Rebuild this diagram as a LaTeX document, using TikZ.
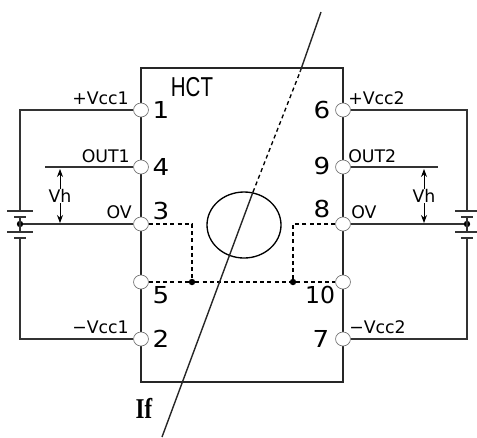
\documentclass[tikz,border=0pt]{standalone}
\usepackage{fontspec}
\setmainfont{DejaVu Sans}
\newfontfamily\hctfont{Liberation Sans}
\newfontfamily\iffont{Liberation Serif}
\usetikzlibrary{arrows.meta,shapes.geometric}
\begin{document}
\begin{tikzpicture}[
          x=0.75pt, y=-0.75pt,
          wire/.style={line width=1.3pt, black!80},
          thinwire/.style={line width=1.05pt, black!85},
          dashwire/.style={line width=1pt, black, dash pattern=on 3pt off 2.4pt},
          pinhole/.style={draw=black!55, line width=0.5pt, fill=white, ellipse, inner sep=0pt, minimum width=11.2pt, minimum height=10.5pt},
          junction/.style={circle, fill=black, inner sep=0pt, minimum size=4.8pt},
          pinnum/.style={font=\fontsize{17.5}{18}\selectfont, xscale=1.12, inner sep=0pt},
          pinlabel/.style={font=\fontsize{13}{14}\selectfont, inner sep=0pt},
          plate/.style={line width=1.1pt, black!80},
          vharrow/.style={-{Stealth[length=6pt,width=4.5pt]}, line width=0.6pt},
        ]
          \useasboundingbox (0,0) rectangle (477,437);

          \coordinate (tl) at (141,68);
          \coordinate (tr) at (343,68);
          \coordinate (bl) at (141,382);
          \coordinate (br) at (343,382);
          \draw[thinwire] (tl) -- (tr) -- (br) -- (bl) -- cycle;

          \node[pinhole] (p1) at (141,110) {};
          \node[pinhole] (p4) at (141,167) {};
          \node[pinhole] (p3) at (141,224) {};
          \node[pinhole] (p5) at (141,282) {};
          \node[pinhole] (p2) at (141,339) {};
          \node[pinhole] (p6) at (343,110) {};
          \node[pinhole] (p9) at (343,167) {};
          \node[pinhole] (p8) at (343,224) {};
          \node[pinhole] (p10) at (343,282) {};
          \node[pinhole] (p7) at (343,339) {};

          \node[pinnum] at (161,110) {1};
          \node[pinnum] at (161,167) {4};
          \node[pinnum] at (161,211) {3};
          \node[pinnum] at (161,295) {5};
          \node[pinnum] at (161,339) {2};
          \node[pinnum] at (322,110) {6};
          \node[pinnum] at (322,166) {9};
          \node[pinnum] at (322,209) {8};
          \node[pinnum, xscale=0.9] at (320,295) {10};
          \node[pinnum] at (321,339) {7};

          \node[pinlabel, anchor=east] at (129,98) {+Vcc1};
          \node[pinlabel, anchor=east] at (130,156) {OUT1};
          \node[pinlabel, anchor=east] at (132,212) {OV};
          \node[pinlabel, anchor=east] at (129,327) {−Vcc1};
          \node[pinlabel, anchor=west] at (348,98) {+Vcc2};
          \node[pinlabel, anchor=west] at (348,156) {OUT2};
          \node[pinlabel, anchor=west] at (351,212) {OV};
          \node[pinlabel, anchor=west] at (349,327) {−Vcc2};

          \node[pinlabel] (vh1) at (60,196) {Vh};
          \node[pinlabel] (vh2) at (424,196) {Vh};

          \node[font=\hctfont\fontsize{20.5}{22}\selectfont, xscale=0.75, inner sep=0pt] at (192,87) {HCT};
          \node[font=\iffont\bfseries\fontsize{21.5}{24}\selectfont, xscale=0.8, inner sep=0pt] at (144,408) {If};

          \coordinate (ol) at (45,167);
          \coordinate (or) at (438,167);
          \coordinate (vl1) at (60,169);
          \coordinate (vl2) at (60,223);
          \coordinate (vr1) at (424,169);
          \coordinate (vr2) at (424,223);

          \node[junction] (bmidl) at (20,224) {};
          \node[junction] (bmidr) at (467,224) {};
          \coordinate (bl1) at (20,211);
          \coordinate (bl2) at (20,217);
          \coordinate (bl3) at (20,232);
          \coordinate (bl4) at (20,238);
          \coordinate (br1) at (467,211);
          \coordinate (br2) at (467,217);
          \coordinate (br3) at (467,232);
          \coordinate (br4) at (467,238);

          \draw[wire] (p1) -| (bl1);
          \draw[wire] (p2) -| (bl4);
          \draw[wire] (p6) -| (br1);
          \draw[wire] (p7) -| (br4);
          \draw[wire] (p4) -- (ol);
          \draw[wire] (p9) -- (or);
          \draw[wire] (p3) -- (bmidl);
          \draw[wire] (p8) -- (bmidr);
          \draw[wire] (bl2) -- (bl3);
          \draw[wire] (br2) -- (br3);

          \draw[plate] ([xshift=-9.75pt]bl1) -- ([xshift=9.75pt]bl1);
          \draw[plate] ([xshift=-4.5pt]bl2) -- ([xshift=4.5pt]bl2);
          \draw[plate] ([xshift=-9.75pt]bl3) -- ([xshift=9.75pt]bl3);
          \draw[plate] ([xshift=-4.5pt]bl4) -- ([xshift=4.5pt]bl4);
          \draw[plate] ([xshift=-9pt]br1) -- ([xshift=7.5pt]br1);
          \draw[plate] ([xshift=-4.5pt]br2) -- ([xshift=4.5pt]br2);
          \draw[plate] ([xshift=-9pt]br3) -- ([xshift=7.5pt]br3);
          \draw[plate] ([xshift=-4.5pt]br4) -- ([xshift=4.5pt]br4);

          \draw[vharrow] (vh1) -- (vl1);
          \draw[vharrow] (vh1) -- (vl2);
          \draw[vharrow] (vh2) -- (vr1);
          \draw[vharrow] (vh2) -- (vr2);

          \node[junction] (j1) at (192,282) {};
          \node[junction] (j2) at (293,282) {};
          \draw[dashwire] (p3) -| (j1);
          \draw[dashwire] (p8) -| (j2);
          \draw[dashwire] (p5) -- (j1) -- (j2) -- (p10);

          \node[draw, ellipse, line width=1pt, minimum width=55.5pt, minimum height=49.5pt, inner sep=0pt] (core) at (244,225) {};

          \coordinate (ifa) at (162,437);
          \coordinate (ifb) at (253,192);
          \coordinate (ifc) at (300,72);
          \coordinate (ifd) at (321,12);
          \draw[thinwire] (ifa) -- (ifb);
          \draw[dashwire] (ifb) -- (ifc);
          \draw[thinwire] (ifc) -- (ifd);
        \end{tikzpicture}
\end{document}
